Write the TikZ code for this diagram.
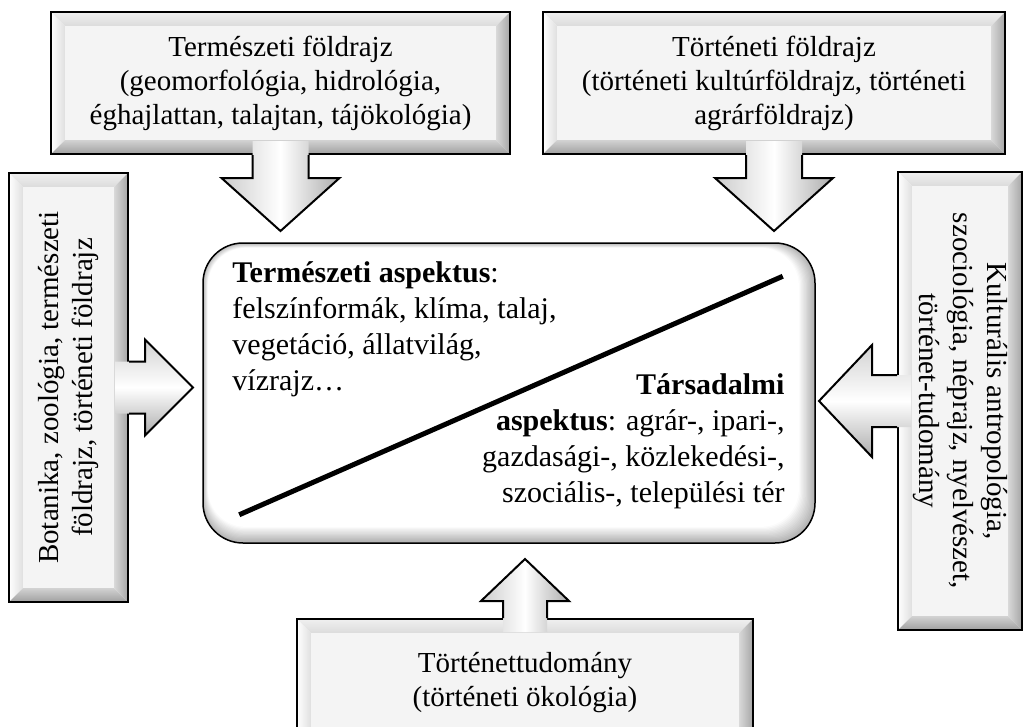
\documentclass[tikz,border=0pt]{standalone}
\usepackage{fontspec}
\setmainfont{Liberation Serif}
\usetikzlibrary{calc}

\newcommand\boxfont{\fontsize{29}{34}\selectfont}
\newcommand\midfont{\fontsize{30}{36}\selectfont}

\tikzset{
  bevelbox/.style={draw, line width=2pt, inner sep=0pt, align=center, font=\boxfont,
    path picture={
      \path (path picture bounding box.north west) coordinate (qa)
            (path picture bounding box.north east) coordinate (qb)
            (path picture bounding box.south east) coordinate (qc)
            (path picture bounding box.south west) coordinate (qd);
      \path ($(qa)+(14,14)$) coordinate (ia) ($(qb)+(-14,14)$) coordinate (ib)
            ($(qc)+(-14,-14)$) coordinate (ic) ($(qd)+(14,-14)$) coordinate (id);
      \shade[top color=gray!12, bottom color=gray!28] (qa) -- (qb) -- (ib) -- (ia) -- cycle;
      \shade[left color=white, right color=gray!25] (qa) -- (ia) -- (id) -- (qd) -- cycle;
      \shade[left color=gray!30, right color=gray!70] (qb) -- (qc) -- (ic) -- (ib) -- cycle;
      \shade[top color=gray!35, bottom color=gray!75] (qd) -- (id) -- (ic) -- (qc) -- cycle;
      \fill[gray!9] (ia) rectangle (ic);
    }},
  mainbox/.style={draw, line width=1.5pt, rounded corners=40pt, inner sep=0pt,
    path picture={
      \foreach \k in {0,...,15} {
        \pgfmathsetmacro\shd{max(0,62-4.5*\k)}
        \fill[gray!\shd, rounded corners=38pt]
          ($(path picture bounding box.north west)+(0.35*\k,0.35*\k)$) rectangle
          ($(path picture bounding box.south east)+(-1.15*\k,-1.15*\k)$);
      }
    }},
  midtext/.style={font=\midfont, inner sep=0pt},
  arrowv/.style={left color=gray!40, right color=gray!65, middle color=white},
  arrowh/.style={top color=gray!35, bottom color=gray!65, middle color=white},
  rim/.style={line width=2pt, line join=miter}
}

\begin{document}
\begin{tikzpicture}[x=1pt, y=-1pt]
\useasboundingbox (0,0) rectangle (1026,726);
\clip (0,0) rectangle (1026,726);

% central box
\node[mainbox, minimum width=612, minimum height=300] (aspekt) at (509,393) {};
\node[midtext, anchor=north west, align=left] (natur) at ($(aspekt.north west)+(30,19)$)
  {\textbf{Természeti aspektus}:\\felszínformák, klíma, talaj,\\vegetáció, állatvilág,\\vízrajz…};
\node[midtext, anchor=south east, align=right] (tarsad) at ($(aspekt.south east)+(-31,-35)$)
  {\textbf{Társadalmi}\\\textbf{aspektus}: agrár-, ipari-,\\gazdasági-, közlekedési-,\\szociális-, települési tér};
\coordinate (divA) at ($(aspekt.south west)+(37,-29)$);
\coordinate (divB) at ($(aspekt.north east)+(-33,34)$);
\draw[line width=5pt] (divA) -- (divB);

% top left
\node[bevelbox, minimum width=459, minimum height=142] (termfold) at (280.5,83)
  {Természeti földrajz\\(geomorfológia, hidrológia,\\éghajlattan, talajtan, tájökológia)};
\coordinate (tipTF) at ($(termfold.south)+(0,76)$);
\shade[arrowv] ($(termfold.south)+(-28,-14)$) -- ++(0,37) -- ++(-31,0) -- (tipTF)
  -- ++(59,-53) -- ++(-31,0) -- ++(0,-37) -- cycle;
\draw[rim] ($(termfold.south)+(-28,0)$) -- ++(0,23) -- ++(-31,0) -- (tipTF)
  -- ++(59,-53) -- ++(-31,0) -- ++(0,-23);

% top right
\node[bevelbox, minimum width=462, minimum height=142] (tortfold) at (774,83)
  {Történeti földrajz\\(történeti kultúrföldrajz, történeti\\agrárföldrajz)};
\coordinate (tipTT) at ($(tortfold.south)+(0,76)$);
\shade[arrowv] ($(tortfold.south)+(-28,-14)$) -- ++(0,37) -- ++(-31,0) -- (tipTT)
  -- ++(59,-53) -- ++(-31,0) -- ++(0,-37) -- cycle;
\draw[rim] ($(tortfold.south)+(-28,0)$) -- ++(0,23) -- ++(-31,0) -- (tipTT)
  -- ++(59,-53) -- ++(-31,0) -- ++(0,-23);

% left
\node[bevelbox, minimum width=119, minimum height=429] (botan) at (68.5,387.5)
  {\rotatebox{90}{\begin{tabular}{@{}c@{}}Botanika, zoológia, természeti\\földrajz, történeti földrajz\end{tabular}}};
\coordinate (tipBo) at ($(botan.east)+(64,0)$);
\shade[arrowh] ($(botan.east)+(-14,-26)$) -- ++(30,0) -- ++(0,-22) -- (tipBo)
  -- ++(-48,48) -- ++(0,-22) -- ++(-30,0) -- cycle;
\draw[rim] ($(botan.east)+(0,-26)$) -- ++(16,0) -- ++(0,-22) -- (tipBo)
  -- ++(-48,48) -- ++(0,-22) -- ++(-16,0);

% right
\node[bevelbox, minimum width=124, minimum height=458] (kultur) at (960,401)
  {\rotatebox{-90}{\begin{tabular}{@{}c@{}}Kulturális antropológia,\\szociológia, néprajz, nyelvészet,\\történet-tudomány\end{tabular}}};
\coordinate (tipKu) at ($(kultur.west)+(-78,0)$);
\shade[arrowh] ($(kultur.west)+(14,-26)$) -- ++(-39,0) -- ++(0,-30) -- (tipKu)
  -- ++(53,56) -- ++(0,-30) -- ++(39,0) -- cycle;
\draw[rim] ($(kultur.west)+(0,-26)$) -- ++(-25,0) -- ++(0,-30) -- (tipKu)
  -- ++(53,56) -- ++(0,-30) -- ++(25,0);

% bottom
\node[bevelbox, minimum width=456, minimum height=128] (tortud) at (525,683)
  {Történettudomány\\(történeti ökológia)};
\coordinate (tipTu) at ($(tortud.north)+(0,-59)$);
\shade[arrowv] ($(tortud.north)+(-22,14)$) -- ++(0,-31) -- ++(-22,0) -- (tipTu)
  -- ++(44,42) -- ++(-22,0) -- ++(0,31) -- cycle;
\draw[rim] ($(tortud.north)+(-22,0)$) -- ++(0,-17) -- ++(-22,0) -- (tipTu)
  -- ++(44,42) -- ++(-22,0) -- ++(0,17);
\end{tikzpicture}
\end{document}
